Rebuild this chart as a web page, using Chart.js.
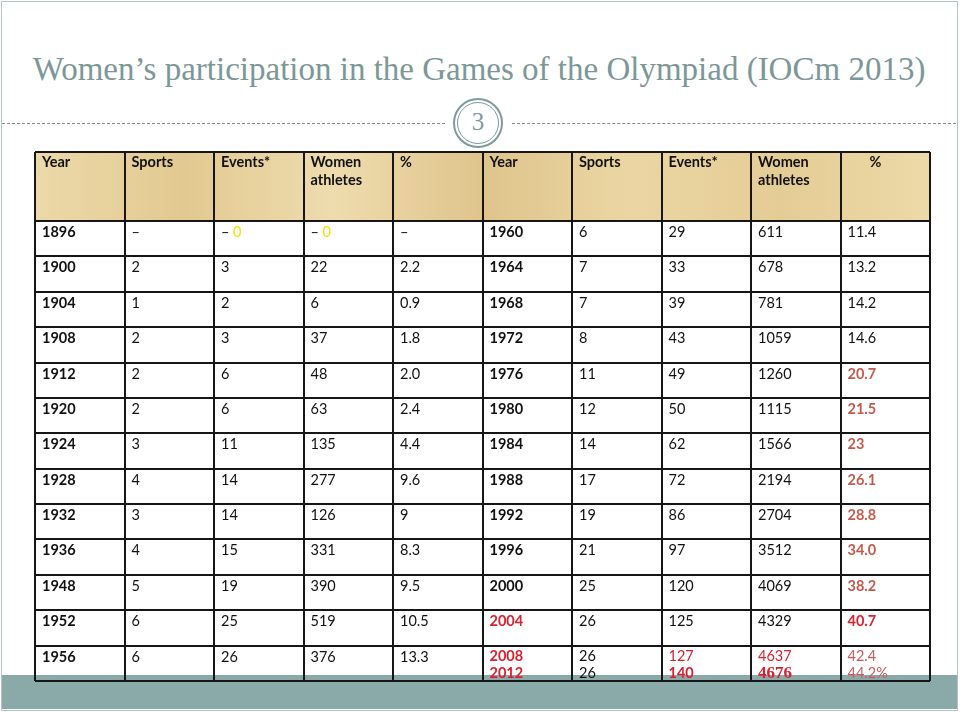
<!DOCTYPE html>
<html lang="en">
  <head>
    <meta charset="UTF-8" />
    <title>Women's participation in the Games of the Olympiad</title>
    <script src="https://cdn.jsdelivr.net/npm/chart.js@4"></script>
    <style>
      body { margin: 0; width: 960px; height: 712px; background: #fff; position: relative; overflow: hidden; }
      .frame { position: absolute; left: 1px; top: 1px; width: 955px; height: 708px; border: 1px solid #b3c3c6; }
      .band { position: absolute; left: 2px; right: 3px; top: 675px; height: 34px; background: #8aa9a9; }
      .title {
        position: absolute; left: 0; width: 958px; top: 51px; text-align: center;
        font-family: "Liberation Serif", serif; font-size: 33px; color: #7c9797; white-space: nowrap;
      }
      .dash { position: absolute; top: 123px; border-top: 1px dashed #8a8a8a; }
      .ring { position: absolute; border-radius: 50%; border: 2px solid #7f9a9a; box-sizing: border-box; }
      .num {
        position: absolute; left: 458px; top: 108px; width: 40px; text-align: center;
        font-family: "Liberation Serif", serif; font-size: 25px; color: #7f9a9a;
      }
      #table { position: absolute; left: 33px; top: 150px; z-index: 2; }
    </style>
  </head>
  <body>
    <div class="frame"></div>
    <div class="band"></div>
    <div class="title">Women’s participation in the Games of the Olympiad (IOCm 2013)</div>
    <div class="dash" style="left:2px;width:443px"></div>
    <div class="dash" style="left:512px;width:444px"></div>
    <div class="ring" style="left:453px;top:98px;width:50px;height:50px;background:#fff"></div>
    <div class="ring" style="left:457px;top:102px;width:42px;height:42px;border-width:1.5px"></div>
    <div class="num">3</div>
    <canvas id="table" width="899" height="533"></canvas>
  </body>
  <script>
    const headers = ["Year", "Sports", "Events*", "Women\nathletes", "%"];

    const leftYears = ["1896", "1900", "1904", "1908", "1912", "1920", "1924", "1928", "1932", "1936", "1948", "1952", "1956"];
    const leftSports = ["–", "2", "1", "2", "2", "2", "3", "4", "3", "4", "5", "6", "6"];
    const leftEvents = ["– 0", "3", "2", "3", "6", "6", "11", "14", "14", "15", "19", "25", "26"];
    const leftWomen = ["– 0", "22", "6", "37", "48", "63", "135", "277", "126", "331", "390", "519", "376"];
    const leftPct = ["–", "2.2", "0.9", "1.8", "2.0", "2.4", "4.4", "9.6", "9", "8.3", "9.5", "10.5", "13.3"];

    const rightYears = ["1960", "1964", "1968", "1972", "1976", "1980", "1984", "1988", "1992", "1996", "2000", "2004", "2008\n2012"];
    const rightSports = ["6", "7", "7", "8", "11", "12", "14", "17", "19", "21", "25", "26", "26\n26"];
    const rightEvents = ["29", "33", "39", "43", "49", "50", "62", "72", "86", "97", "120", "125", "127\n140"];
    const rightWomen = ["611", "678", "781", "1059", "1260", "1115", "1566", "2194", "2704", "3512", "4069", "4329", "4637\n4676"];
    const rightPct = ["11.4", "13.2", "14.2", "14.6", "20.7", "21.5", "23", "26.1", "28.8", "34.0", "38.2", "40.7", "42.4\n44.2%"];

    const columns = [leftYears, leftSports, leftEvents, leftWomen, leftPct,
                     rightYears, rightSports, rightEvents, rightWomen, rightPct];
    const HEADER_ROWS = 1.95; // header is about two rows tall
    const nRows = leftYears.length;

    const FONT = "Lato, 'Open Sans', sans-serif";
    const regular = "14.5px " + FONT;
    const bold = "bold 14.5px " + FONT;
    const salmon = "#c45a4c";
    const red = "#dc1f2e";

    // pick font/colour for one line of a cell
    function styleFor(col, row, line) {
      const isYear = col === 0 || col === 5;
      let s = {font: isYear ? bold : regular, color: "#111"};
      const year = col < 5 ? leftYears[row] : rightYears[row];
      if (col === 9 && ["1976", "1980", "1984", "1988", "1992", "1996", "2000"].includes(year)) s = {font: bold, color: salmon};
      if (year === "2004" && (col === 5 || col === 9)) s = {font: bold, color: red};
      if (year.startsWith("2008")) {
        if (col === 5) s = {font: bold, color: red};
        if (col === 7) s = {font: line ? bold : regular, color: red};
        if (col === 8) s = line ? {font: "bold 17px 'Liberation Serif', serif", color: red} : {font: regular, color: red};
        if (col === 9) s = {font: regular, color: "#d0585a"};
      }
      return s;
    }

    function drawLine(ctx, x, y, text, s) {
      ctx.font = s.font;
      ctx.fillStyle = s.color;
      // yellow zero in the 1896 row
      if (text === "– 0") {
        ctx.fillText("– ", x, y);
        ctx.fillStyle = "#f2e200";
        ctx.fillText("0", x + ctx.measureText("– ").width, y);
        return;
      }
      ctx.fillText(text, x, y);
    }

    const headerFill = {
      id: "headerFill",
      beforeDraw(chart) {
        const {ctx, scales: {x, y}} = chart;
        const top = y.getPixelForValue(0), bottom = y.getPixelForValue(HEADER_ROWS);
        const g = ctx.createLinearGradient(x.left, 0, x.right, 0);
        ["#ecd9a9", "#e2c991", "#eedcae", "#dfc48c", "#ebd6a3", "#e4cc95", "#eddaa8"].forEach((c, i, a) => g.addColorStop(i / (a.length - 1), c));
        ctx.save();
        ctx.fillStyle = g;
        ctx.fillRect(x.left, top, x.right - x.left, bottom - top);
        ctx.restore();
      }
    };

    const cellText = {
      id: "cellText",
      afterDatasetsDraw(chart) {
        const {ctx, scales: {x, y}} = chart;
        ctx.save();
        ctx.textBaseline = "alphabetic";
        // header row
        for (let c = 0; c < 10; c++) {
          const left = x.getPixelForValue(c) + 7 + (c === 9 ? 22 : 0);
          headers[c % 5].split("\n").forEach((t, k) => {
            drawLine(ctx, left, y.getPixelForValue(0) + 15 + k * 18, t, {font: bold, color: "#111"});
          });
        }
        // body cells at the dataset points
        chart.data.datasets.forEach((ds, c) => {
          chart.getDatasetMeta(c).data.forEach((pt, r) => {
            const lines = columns[c][r].split("\n");
            const first = lines.length > 1 ? 15 : 16;
            lines.forEach((t, k) => {
              drawLine(ctx, pt.x + 7, pt.y + first + k * 17, t, styleFor(c, r, k));
            });
          });
        });
        ctx.restore();
      }
    };

    const rowEdges = [0];
    for (let i = 0; i <= nRows; i++) rowEdges.push(HEADER_ROWS + i);

    new Chart(document.getElementById("table").getContext("2d"), {
      type: "scatter",
      data: {
        datasets: columns.map((vals, c) => ({
          label: "col" + c,
          data: vals.map((v, r) => ({x: c, y: HEADER_ROWS + r})),
          pointRadius: 0,
        })),
      },
      options: {
        responsive: false,
        animation: false,
        layout: {padding: 2},
        plugins: {legend: {display: false}, tooltip: {enabled: false}},
        scales: {
          x: {
            type: "linear", min: 0, max: 10,
            ticks: {display: false, stepSize: 1},
            grid: {color: "#161616", lineWidth: 2, drawTicks: false},
            border: {display: false},
          },
          y: {
            type: "linear", reverse: true, min: 0, max: HEADER_ROWS + nRows,
            afterBuildTicks: (s) => { s.ticks = rowEdges.map((v) => ({value: v})); },
            ticks: {display: false},
            grid: {color: "#161616", lineWidth: 2, drawTicks: false},
            border: {display: false},
          },
        },
      },
      plugins: [headerFill, cellText],
    });
  </script>
</html>
